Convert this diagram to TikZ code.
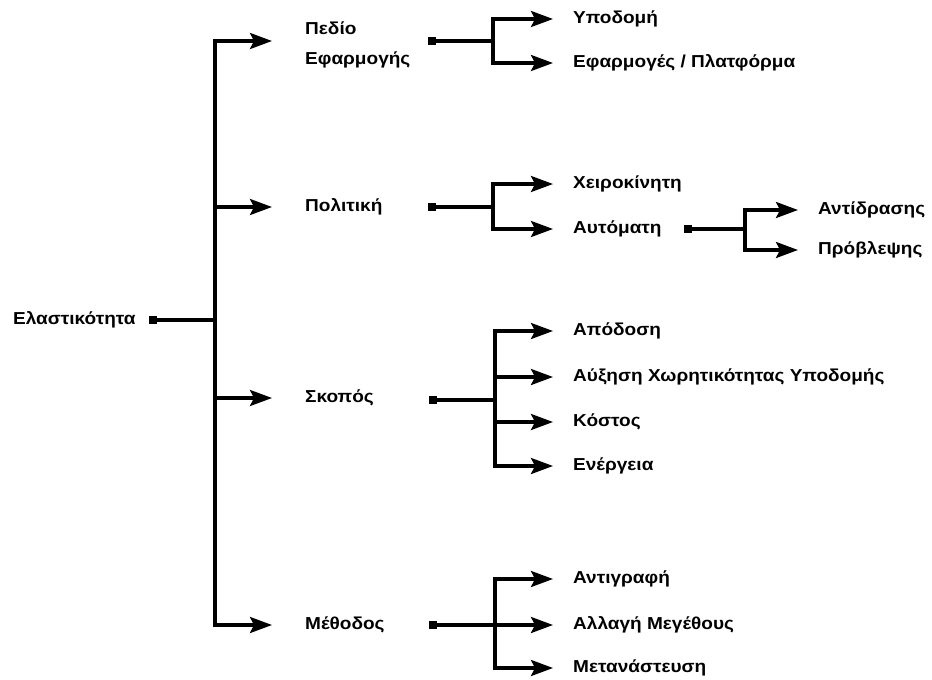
\documentclass[tikz,border=0pt]{standalone}
\usepackage{fontspec}
\setmainfont{Liberation Sans}
\newfontfamily\lblfont{Liberation Sans}[FakeStretch=1.10]
\usetikzlibrary{arrows.meta}
\tikzset{
  lbl/.style={font=\lblfont\bfseries\fontsize{17.3}{30}\selectfont, inner sep=0pt, anchor=west, align=left},
  wire/.style={line width=3.1pt},
  arr/.style={wire, -{Stealth[length=22pt,width=16pt,inset=4pt]}},
  far/.style={shorten >=33pt},
  near/.style={shorten >=20pt},
  dot/.style={fill, rectangle, minimum size=8pt, inner sep=0pt}
}
\begin{document}
\begin{tikzpicture}[x=1pt,y=-1pt]
\useasboundingbox (0,0) rectangle (932,680);

% root
\node[lbl] (root) at (13,320) {Ελαστικότητα};
\node[dot] (s0) at (153,320) {};
\coordinate (j0) at (215,320);

% first level
\node[lbl] (pedio) at (305,45) {Πεδίο\\Εφαρμογής};
\node[lbl] (pol) at (305,207) {Πολιτική};
\node[lbl] (skop) at (305,398) {Σκοπός};
\node[lbl] (meth) at (305,625) {Μέθοδος};

\draw[wire] (s0.center) -- (j0);
\draw[arr,far] (j0) |- (305,41);
\draw[arr,far] (j0) |- (pol.west);
\draw[arr,far] (j0) |- (skop.west);
\draw[arr,far] (j0) |- (meth.west);

% Πεδίο Εφαρμογής
\node[dot] (s1) at (432,41) {};
\coordinate (j1) at (493,41);
\node[lbl] (ypod) at (573,19) {Υποδομή};
\node[lbl] (efar) at (573,63) {Εφαρμογές / Πλατφόρμα};
\draw[wire] (s1.center) -- (j1);
\draw[arr,near] (j1) |- (ypod.west);
\draw[arr,near] (j1) |- (efar.west);

% Πολιτική
\node[dot] (s2) at (432,207) {};
\coordinate (j2) at (493,207);
\node[lbl] (xeir) at (573,184) {Χειροκίνητη};
\node[lbl] (auto) at (573,229) {Αυτόματη};
\draw[wire] (s2.center) -- (j2);
\draw[arr,near] (j2) |- (xeir.west);
\draw[arr,near] (j2) |- (auto.west);

% Αυτόματη
\node[dot] (s3) at (688,229) {};
\coordinate (j3) at (745,229);
\node[lbl] (antid) at (818,210) {Αντίδρασης};
\node[lbl] (provl) at (818,250) {Πρόβλεψης};
\draw[wire] (s3.center) -- (j3);
\draw[arr,near] (j3) |- (antid.west);
\draw[arr,near] (j3) |- (provl.west);

% Σκοπός
\node[dot] (s4) at (433,400) {};
\coordinate (j4) at (495,400);
\node[lbl] (apod) at (573,331) {Απόδοση};
\node[lbl] (auxi) at (573,377) {Αύξηση Χωρητικότητας Υποδομής};
\node[lbl] (kost) at (573,422) {Κόστος};
\node[lbl] (ener) at (573,466) {Ενέργεια};
\draw[wire] (s4.center) -- (j4);
\draw[arr,near] (j4) |- (apod.west);
\draw[arr,near] (j4) |- (auxi.west);
\draw[arr,near] (j4) |- (kost.west);
\draw[arr,near] (j4) |- (ener.west);

% Μέθοδος
\node[dot] (s5) at (433,625) {};
\coordinate (j5) at (495,625);
\node[lbl] (anti) at (573,579) {Αντιγραφή};
\node[lbl] (alla) at (573,625) {Αλλαγή Μεγέθους};
\node[lbl] (meta) at (573,668) {Μετανάστευση};
\draw[arr,near] (s5.center) -- (alla.west);
\draw[arr,near] (j5) |- (anti.west);
\draw[arr,near] (j5) |- (meta.west);
\end{tikzpicture}
\end{document}
